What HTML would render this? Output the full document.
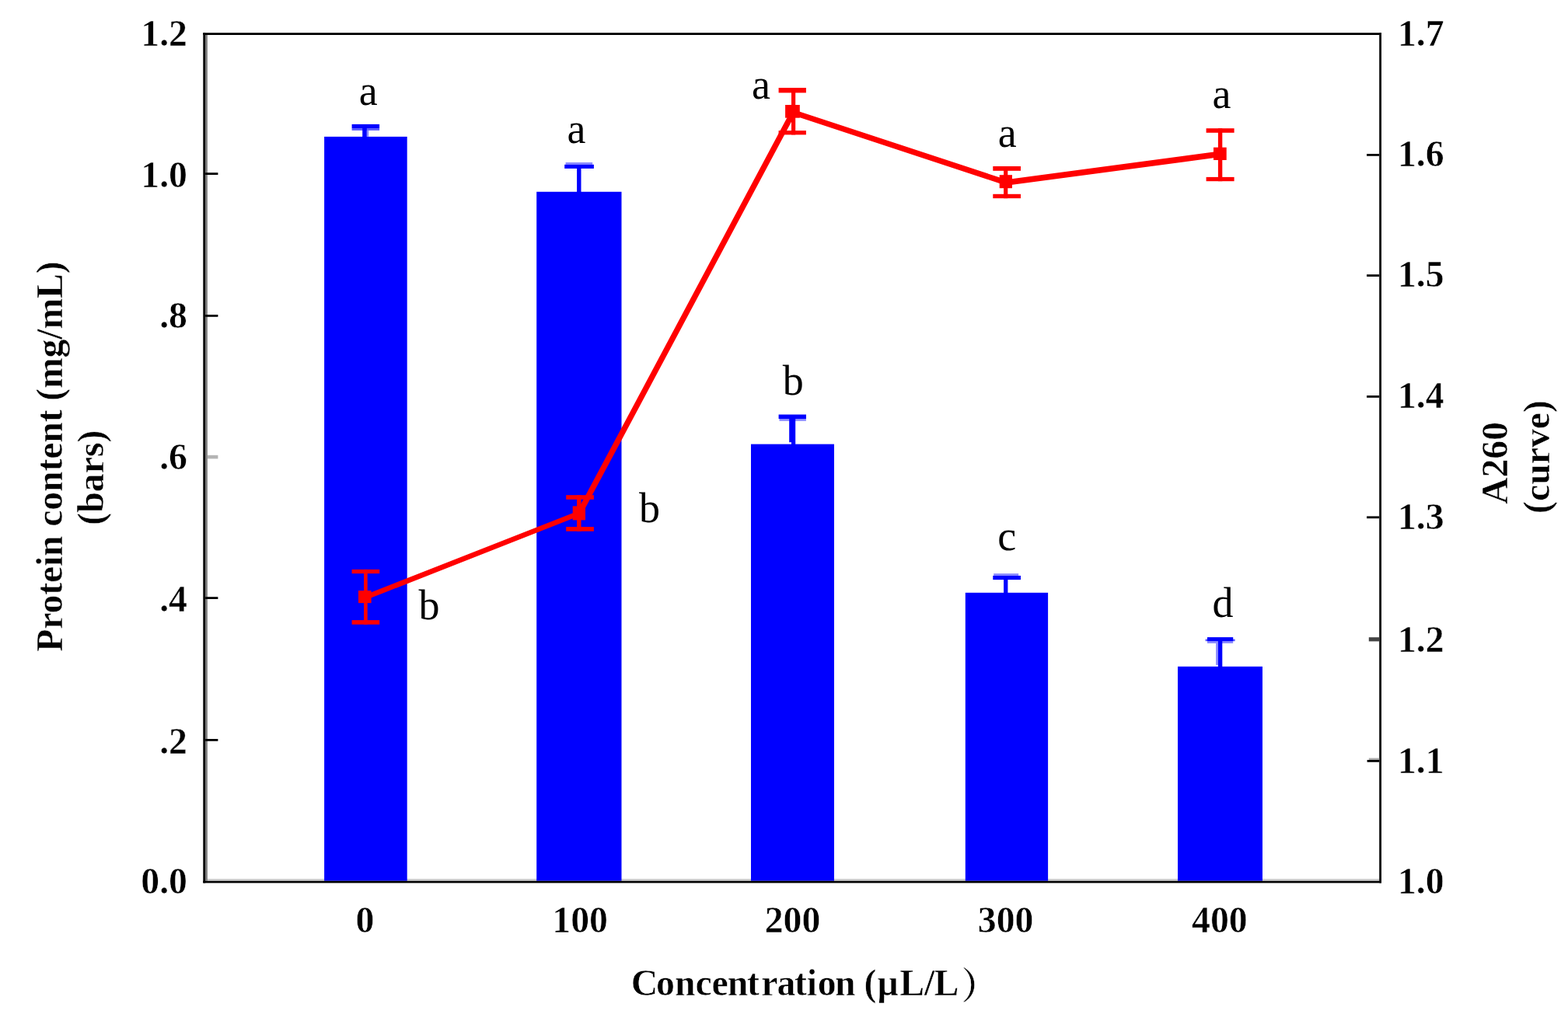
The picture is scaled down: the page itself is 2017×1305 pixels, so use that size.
<!DOCTYPE html>
<html lang="en"><head><meta charset="utf-8"><title>Protein content and A260 vs concentration</title>
<style>
html,body{margin:0;padding:0;background:#fff}
body{width:2017px;height:1305px;overflow:hidden}
svg{display:block}
text{font-family:"Liberation Serif","Noto Serif CJK SC",serif;fill:#000}
.b{font-weight:bold;font-size:47.8px;stroke:#fff;stroke-width:0.5px}
.r{font-weight:normal;font-size:54.0px}
</style></head><body>
<svg width="2017" height="1305" viewBox="0 0 2017 1305">
<rect width="2017" height="1305" fill="#fff"/>
<rect x="264.2" y="1131.0" width="1512.8" height="2.7" fill="#cfcfcf"/>
<g fill="#0000ff">
<rect x="417.1" y="175.9" width="106.6" height="957.8"/>
<rect x="690.2" y="246.8" width="109.3" height="886.9"/>
<rect x="966.0" y="571.6" width="107.0" height="562.1"/>
<rect x="1241.8" y="762.8" width="106.3" height="370.9"/>
<rect x="1515.0" y="857.8" width="109.0" height="275.9"/>
</g>
<g>
<rect x="452.6" y="165.1" width="35.5" height="2.8" fill="#5a5aff"/>
<rect x="471.8" y="167.9" width="2.5" height="8.0" fill="#8a8aff"/>
<rect x="727.6" y="209.0" width="34.6" height="2.8" fill="#8a8aff"/>
<rect x="1002.5" y="539.0" width="34.4" height="2.8" fill="#8a8aff"/>
<rect x="1278.2" y="738.1" width="32.0" height="2.8" fill="#8a8aff"/>
<rect x="1550.6" y="822.6" width="38.0" height="2.6" fill="#5a5aff"/>
<rect x="1553.0" y="825.2" width="33.2" height="2.7" fill="#8a8aff"/>
<rect x="1564.1" y="827.9" width="2.8" height="28.0" fill="#8a8aff"/>
<rect x="452.6" y="159.9" width="35.5" height="5.2" fill="#0000ff"/>
<rect x="466.2" y="165.0" width="5.6" height="11.5" fill="#0000ff"/>
<rect x="726.2" y="211.8" width="37.7" height="5.1" fill="#0000ff"/>
<rect x="742.1" y="216.0" width="5.4" height="31.0" fill="#0000ff"/>
<rect x="1001.6" y="533.5" width="35.4" height="5.5" fill="#0000ff"/>
<rect x="1015.2" y="539.0" width="8.0" height="30.2" fill="#0000ff"/>
<rect x="1018.0" y="569.0" width="5.2" height="3.0" fill="#0000ff"/>
<rect x="1277.3" y="740.9" width="35.7" height="5.2" fill="#0000ff"/>
<rect x="1291.1" y="746.0" width="5.3" height="17.0" fill="#0000ff"/>
<rect x="1553.0" y="820.1" width="33.2" height="5.1" fill="#0000ff"/>
<rect x="1566.9" y="825.0" width="5.4" height="33.0" fill="#0000ff"/>
</g>
<g fill="#000">
<rect x="264.2" y="45.0" width="2.7" height="1088.7" fill="#808080"/>
<rect x="261.3" y="42.2" width="2.9" height="1094.2"/>
<rect x="261.3" y="42.2" width="1515.7" height="2.8"/>
<rect x="1774.2" y="42.2" width="2.8" height="1094.2"/>
<rect x="261.3" y="1133.7" width="1515.7" height="2.7"/>
<rect x="264.2" y="222.2" width="16.2" height="2.8"/>
<rect x="264.2" y="405.0" width="16.2" height="2.8"/>
<rect x="266.9" y="585.8" width="13.5" height="4.6" fill="#b4b4b4"/>
<rect x="264.2" y="768.2" width="16.2" height="2.8"/>
<rect x="264.2" y="951.0" width="16.2" height="2.8"/>
<rect x="1758.1" y="198.0" width="16.1" height="2.8"/>
<rect x="1758.1" y="353.2" width="16.1" height="2.8"/>
<rect x="1758.1" y="509.0" width="16.1" height="2.8"/>
<rect x="1758.1" y="664.4" width="16.1" height="2.8"/>
<rect x="1760.8" y="820.2" width="13.4" height="5.2" fill="#444"/>
<rect x="1760.8" y="975.6" width="13.4" height="2.5" fill="#aaa"/>
<rect x="1758.6" y="978.0" width="15.6" height="2.8"/>
</g>
<g stroke="#ff0000" stroke-linecap="round" fill="none">
<line x1="470.0" y1="768.8" x2="745.2" y2="660.5" stroke-width="6.6"/>
<line x1="745.2" y1="660.5" x2="1020.2" y2="144.7" stroke-width="7.4"/>
<line x1="1020.2" y1="144.7" x2="1294.3" y2="235.0" stroke-width="7.2"/>
<line x1="1294.3" y1="235.0" x2="1569.6" y2="198.3" stroke-width="7.5"/>
</g>
<g fill="#ff0000">
<rect x="468.1" y="732.9" width="4.6" height="70.8"/>
<rect x="452.6" y="732.9" width="35.6" height="5.2"/>
<rect x="452.6" y="798.1" width="35.6" height="5.6"/>
<rect x="461.0" y="760.1" width="16.6" height="16.0"/>
<rect x="742.1" y="637.2" width="5.4" height="46.5"/>
<rect x="728.2" y="637.2" width="35.7" height="5.6"/>
<rect x="728.2" y="678.1" width="35.7" height="5.6"/>
<rect x="736.7" y="651.4" width="16.3" height="18.0"/>
<rect x="1018.0" y="113.0" width="5.2" height="60.4"/>
<rect x="1001.6" y="113.0" width="35.3" height="6.4"/>
<rect x="1001.6" y="168.1" width="35.3" height="5.3"/>
<rect x="1010.1" y="135.0" width="18.7" height="16.7"/>
<rect x="1291.1" y="214.0" width="5.2" height="41.2"/>
<rect x="1277.3" y="214.0" width="35.7" height="5.8"/>
<rect x="1277.3" y="249.8" width="35.7" height="5.4"/>
<rect x="1285.7" y="225.2" width="16.3" height="17.0"/>
<rect x="1566.9" y="165.2" width="5.4" height="68.0"/>
<rect x="1551.6" y="165.2" width="36.0" height="5.6"/>
<rect x="1551.6" y="227.9" width="36.0" height="5.3"/>
<rect x="1561.0" y="189.7" width="16.7" height="16.3"/>
</g>
<g class="b" text-anchor="end">
<text x="241.0" y="58.6">1.2</text>
<text x="241.0" y="241.4">1.0</text>
<text x="241.0" y="421.8">.8</text>
<text x="241.0" y="604.1">.6</text>
<text x="241.0" y="786.9">.4</text>
<text x="241.0" y="969.5">.2</text>
<text x="241.0" y="1149.8">0.0</text>
</g>
<g class="b" text-anchor="start">
<text x="1797.9" y="58.6">1.7</text>
<text x="1797.9" y="213.7">1.6</text>
<text x="1797.9" y="369.4">1.5</text>
<text x="1797.9" y="524.9">1.4</text>
<text x="1797.9" y="680.7">1.3</text>
<text x="1797.9" y="838.7">1.2</text>
<text x="1797.9" y="994.7">1.1</text>
<text x="1797.9" y="1149.8">1.0</text>
</g>
<g class="b" text-anchor="middle">
<text x="469.4" y="1200.4">0</text>
<text x="746.1" y="1200.4">100</text>
<text x="1019.5" y="1200.4">200</text>
<text x="1293.6" y="1200.4">300</text>
<text x="1568.9" y="1200.4">400</text>
</g>
<text class="b" x="811.7 844.0 868.0 894.4 915.4 935.7 961.1 979.2 999.4 1022.0 1037.8 1051.7 1074.1 1100.3 1111.5 1128.6 1157.3 1188.9 1201.6 1236.6" y="1280.8">Concentration (μL/L<tspan dy="4.5">）</tspan></text>
<text class="b" transform="translate(79.6 587.6) rotate(-90)" text-anchor="middle" style="letter-spacing:-0.17px">Protein content (mg/mL)</text>
<text class="b" transform="translate(132.5 614.6) rotate(-90)" text-anchor="middle">(bars)</text>
<text class="b" transform="translate(1939.3 596.0) rotate(-90)" text-anchor="middle">A260</text>
<text class="b" transform="translate(1992.6 588) rotate(-90)" text-anchor="middle">(curve)</text>
<g class="r" text-anchor="middle">
<text x="473.8" y="134.7">a</text>
<text x="741.4" y="183.8">a</text>
<text x="1020.3" y="508.2">b</text>
<text x="1295.3" y="707.9">c</text>
<text x="1573.0" y="793.6">d</text>
<text x="552.0" y="797.2">b</text>
<text x="835.5" y="672.2">b</text>
<text x="979.1" y="126.5">a</text>
<text x="1295.8" y="189.3">a</text>
<text x="1571.5" y="139.4">a</text>
</g>
</svg>
</body></html>
